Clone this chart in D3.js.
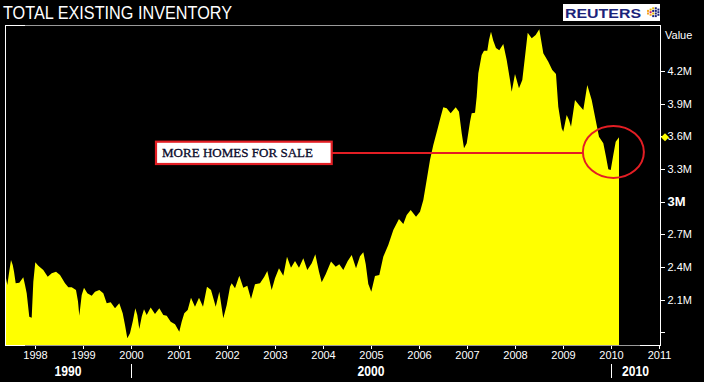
<!DOCTYPE html>
<html>
<head>
<meta charset="utf-8">
<script src="https://cdn.jsdelivr.net/npm/d3@7"></script>
<style>
  html, body { margin: 0; padding: 0; background: #000; }
  svg { display: block; }
</style>
</head>
<body>
<svg id="chart" width="704" height="382"></svg>
<script>
// ---- data (decimal year, inventory in millions of homes) ----
const years = [
  1997.396,1997.423,1997.444,1997.465,1997.500,1997.536,1997.563,1997.598,1997.673,1997.756,
  1997.792,1997.827,1997.881,1997.931,1997.965,1998.006,1998.069,1998.173,1998.265,1998.348,
  1998.438,1998.521,1998.625,1998.694,1998.765,1998.854,1998.896,1998.923,1998.973,1999.021,
  1999.090,1999.181,1999.250,1999.340,1999.423,1999.494,1999.577,1999.667,1999.756,1999.827,
  1999.875,1999.923,1999.979,2000.035,2000.090,2000.131,2000.173,2000.223,2000.271,2000.327,
  2000.410,2000.500,2000.590,2000.673,2000.744,2000.827,2000.917,2001.006,2001.056,2001.110,
  2001.181,2001.250,2001.333,2001.417,2001.500,2001.583,2001.667,2001.735,2001.765,2001.840,
  2001.923,2001.994,2002.063,2002.098,2002.167,2002.256,2002.340,2002.423,2002.500,2002.583,
  2002.688,2002.777,2002.840,2002.931,2003.000,2003.083,2003.173,2003.250,2003.333,2003.417,
  2003.500,2003.590,2003.673,2003.765,2003.840,2003.917,2003.973,2004.056,2004.167,2004.265,
  2004.340,2004.423,2004.515,2004.598,2004.688,2004.771,2004.840,2004.890,2004.944,2005.006,
  2005.083,2005.173,2005.256,2005.360,2005.465,2005.583,2005.673,2005.744,2005.827,2005.938,
  2006.021,2006.090,2006.160,2006.229,2006.298,2006.381,2006.452,2006.506,2006.577,2006.660,
  2006.765,2006.833,2006.890,2006.938,2006.994,2007.063,2007.098,2007.167,2007.202,2007.236,
  2007.306,2007.354,2007.423,2007.458,2007.500,2007.548,2007.604,2007.673,2007.756,2007.827,
  2007.896,2007.931,2008.000,2008.083,2008.152,2008.208,2008.265,2008.348,2008.431,2008.506,
  2008.590,2008.694,2008.777,2008.854,2008.902,2008.973,2009.006,2009.077,2009.125,2009.167,
  2009.250,2009.333,2009.423,2009.506,2009.598,2009.667,2009.750,2009.840,2009.896,2009.944,
  2009.994,2010.048,2010.098,2010.152,2010.167
];
const inventory = [
  2.297,2.236,2.300,2.364,2.465,2.419,2.358,2.251,2.257,2.306,
  2.236,2.160,1.945,1.936,2.266,2.444,2.413,2.373,2.312,2.343,
  2.358,2.327,2.251,2.215,2.215,2.190,2.083,1.954,2.144,2.211,
  2.160,2.138,2.174,2.190,2.160,2.068,2.077,2.022,2.068,1.976,
  1.869,1.747,1.793,1.899,2.022,1.961,1.832,1.945,2.013,1.961,
  2.028,1.970,2.022,1.961,1.954,1.899,1.875,1.807,1.899,1.976,
  2.006,2.119,2.037,2.119,2.037,2.220,2.190,2.083,2.037,2.174,
  1.930,2.052,2.220,2.251,2.205,2.321,2.211,2.229,2.107,2.242,
  2.251,2.312,2.364,2.190,2.297,2.389,2.321,2.495,2.394,2.456,
  2.394,2.481,2.373,2.435,2.517,2.358,2.261,2.334,2.450,2.404,
  2.426,2.373,2.456,2.511,2.389,2.500,2.536,2.428,2.245,2.174,
  2.318,2.327,2.495,2.603,2.740,2.841,2.796,2.878,2.924,2.862,
  2.908,3.016,3.199,3.383,3.520,3.658,3.780,3.866,3.857,3.811,
  3.866,3.826,3.628,3.490,3.536,3.734,3.811,3.817,3.963,4.178,
  4.346,4.385,4.385,4.484,4.560,4.477,4.410,4.389,4.447,4.300,
  4.117,4.009,4.172,4.040,4.117,4.330,4.550,4.499,4.529,4.582,
  4.361,4.284,4.208,4.172,3.872,3.673,3.642,3.795,3.750,3.688,
  3.933,3.887,3.841,4.071,3.933,3.780,3.596,3.536,3.413,3.297,
  3.291,3.428,3.550,3.582,3.590
];
const yearTicks = [1998,1999,2000,2001,2002,2003,2004,2005,2006,2007,2008,2009,2010,2011];
const valueTicks = [1.8,2.1,2.4,2.7,3.0,3.3,3.6,3.9,4.2];
const valueLabels = ["","2.1M","2.4M","2.7M","3M","3.3M","3.6M","3.9M","4.2M"];
const decadeBreaks = [2000,2010];
const decadeLabels = [
  {label:"1990", from:null, to:2000},
  {label:"2000", from:2000, to:2010},
  {label:"2010", from:2010, to:null}
];
const titleText = "TOTAL EXISTING INVENTORY";
const noteText = "MORE HOMES FOR SALE";
const circleAt = {t:2010.05, v:3.456};

// ---- layout ----
const svg = d3.select("#chart");
const L = 5, R = 660, T = 25, B = 345;
const x = d3.scaleLinear().domain([1997.375, 2011.021]).range([L, R]);
const y = d3.scaleLinear().domain([1.685, 4.621]).range([B, T]);
const data = years.map((t,i)=>({t, v:inventory[i]}));
const FONT = "'Liberation Sans', Arial, sans-serif";
const GREY = "#9a9a9a";
const RED = "#e31e24";

svg.append("rect").attr("width",704).attr("height",382).attr("fill","#000");

// area
svg.append("path").datum(data)
  .attr("d", d3.area().x(d=>x(d.t)).y0(B).y1(d=>y(d.v)))
  .attr("fill","#ffff00");

// frame
const frame = svg.append("g").attr("shape-rendering","crispEdges");
frame.append("line").attr("x1",L+0.5).attr("x2",L+0.5).attr("y1",T).attr("y2",B+1).attr("stroke","#fff");
frame.append("line").attr("x1",L).attr("x2",R).attr("y1",T+0.5).attr("y2",T+0.5).attr("stroke",GREY);
frame.append("line").attr("x1",L).attr("x2",L+20).attr("y1",T+0.5).attr("y2",T+0.5).attr("stroke","#fff");
frame.append("line").attr("x1",R-20).attr("x2",R).attr("y1",T+0.5).attr("y2",T+0.5).attr("stroke","#fff");
frame.append("line").attr("x1",L).attr("x2",R).attr("y1",B+0.5).attr("y2",B+0.5).attr("stroke",GREY);
frame.append("line").attr("x1",L).attr("x2",L+20).attr("y1",B+0.5).attr("y2",B+0.5).attr("stroke","#fff");
frame.append("line").attr("x1",R-20).attr("x2",R).attr("y1",B+0.5).attr("y2",B+0.5).attr("stroke","#fff");

// right axis
const yAxis = d3.axisRight(y).tickValues(valueTicks).tickSize(4).tickPadding(3)
  .tickFormat((d,i)=>valueLabels[i]);
const gy = svg.append("g").attr("transform",`translate(${R+0.5},0)`).call(yAxis);
gy.select(".domain").attr("stroke","#fff").attr("d",`M0,${T}V${B+1}`).attr("shape-rendering","crispEdges");
gy.selectAll(".tick line").attr("stroke","#fff").attr("shape-rendering","crispEdges");
gy.selectAll(".tick text").attr("fill","#fff").attr("font-family",FONT)
  .attr("font-size",d=>d===3?13:11).attr("font-weight",d=>d===3?"bold":"normal");
svg.append("text").attr("x",665).attr("y",39).text("Value")
  .attr("fill","#fff").attr("font-family",FONT).attr("font-size",11);

// bottom axis
const xAxis = d3.axisBottom(x).tickValues(yearTicks).tickSize(3).tickPadding(3).tickFormat(d3.format("d"));
const gx = svg.append("g").attr("transform",`translate(0,${B+0.5})`).call(xAxis);
gx.select(".domain").remove();
gx.selectAll(".tick line").attr("stroke","#fff").attr("shape-rendering","crispEdges");
gx.selectAll(".tick text").attr("fill","#fff").attr("font-family",FONT).attr("font-size",11);

// decades
decadeBreaks.forEach(b=>{
  svg.append("line").attr("x1",Math.round(x(b))+0.5).attr("x2",Math.round(x(b))+0.5)
    .attr("y1",364).attr("y2",378).attr("stroke","#fff").attr("shape-rendering","crispEdges");
});
decadeLabels.forEach(d=>{
  const a = d.from==null ? L : x(d.from);
  const b = d.to==null ? R : x(d.to);
  svg.append("text").attr("x",(a+b)/2).attr("y",376).attr("text-anchor","middle")
    .attr("fill","#fff").attr("font-family",FONT).attr("font-weight","bold").attr("font-size",14)
    .attr("textLength",27).attr("lengthAdjust","spacingAndGlyphs").text(d.label);
});

// title
svg.append("text").attr("x",3).attr("y",19).text(titleText)
  .attr("fill","#fff").attr("font-family",FONT).attr("font-size",18)
  .attr("textLength",229).attr("lengthAdjust","spacingAndGlyphs");

// Reuters logo
const logo = svg.append("g");
logo.append("rect").attr("x",563).attr("y",4).attr("width",97).attr("height",17).attr("fill","#fff");
logo.append("text").attr("x",565).attr("y",17.5).text("REUTERS")
  .attr("fill","#1b237a").attr("font-family",FONT).attr("font-weight","bold").attr("font-size",13.5)
  .attr("textLength",76).attr("lengthAdjust","spacingAndGlyphs");
const dotCols = [["#f5a623","#f5a623"],["#e8b800","#d4145a","#f5a623"],["#e8b800","#1b237a","#e8b800","#1b237a"],["#1b237a","#1b237a","#1b237a","#1b237a"],["#1b237a","#1b237a","#1b237a"]];
dotCols.forEach((col,ci)=>{
  const n = col.length;
  col.forEach((c,ri)=>{
    logo.append("rect").attr("x",647+ci*2.6).attr("y",12.5-n*1.3+ri*2.6).attr("width",2).attr("height",2).attr("fill",c);
  });
});

// last value marker
const last = data[data.length-1];
const my = y(last.v), mx = R+5;
svg.append("path").attr("d",`M${mx-4},${my}L${mx},${my-4}L${mx+4},${my}L${mx},${my+4}Z`).attr("fill","#ffff00");

// annotation
const cx = x(circleAt.t), cy = y(circleAt.v);
svg.append("line").attr("x1",332).attr("x2",cx-30.5).attr("y1",Math.round(cy)+0.5).attr("y2",Math.round(cy)+0.5)
  .attr("stroke",RED).attr("stroke-width",2).attr("shape-rendering","crispEdges");
svg.append("ellipse").attr("cx",cx).attr("cy",cy).attr("rx",30.5).attr("ry",26)
  .attr("fill","none").attr("stroke",RED).attr("stroke-width",2);
svg.append("rect").attr("x",156).attr("y",141.7).attr("width",175.7).attr("height",22.3)
  .attr("fill","#fff").attr("stroke",RED).attr("stroke-width",2.2);
svg.append("text").attr("x",162).attr("y",156.5).text(noteText)
  .attr("fill","#0a0a2a").attr("font-family","'Liberation Serif','DejaVu Serif',serif").attr("font-size",13)
  .attr("stroke","#0a0a2a").attr("stroke-width",0.3)
  .attr("textLength",151).attr("lengthAdjust","spacing");
</script>
</body>
</html>
